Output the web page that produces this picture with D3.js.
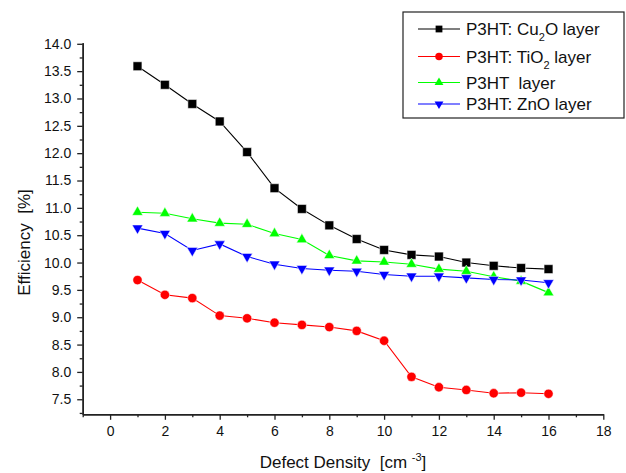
<!doctype html>
<html lang="en">
  <head>
    <title>Efficiency vs defect density</title>
    <style>
      * {
        box-sizing: border-box;
      }

      body {
        margin: 0;
        background: white;
      }

      text {
        font-family: "Liberation Sans", Arial, sans-serif;
        white-space: pre;
      }
    </style>
  </head>
  <body>
    <div id="chart"></div>

    <script src="https://cdn.jsdelivr.net/npm/d3@7"></script>
    <script>
      const density = [1, 2, 3, 4, 5, 6, 7, 8, 9, 10, 11, 12, 13, 14, 15, 16]
      const cu2o = [13.59, 13.25, 12.90, 12.58, 12.02, 11.36, 10.98, 10.68, 10.43, 10.23, 10.14, 10.11, 10.00, 9.94, 9.90, 9.88]
      const tio2 = [9.68, 9.41, 9.35, 9.03, 8.98, 8.90, 8.86, 8.82, 8.75, 8.57, 7.91, 7.72, 7.67, 7.61, 7.62, 7.60]
      const p3ht = [10.92, 10.90, 10.80, 10.72, 10.70, 10.53, 10.42, 10.13, 10.03, 10.01, 9.97, 9.88, 9.84, 9.74, 9.66, 9.45]
      const zno = [10.63, 10.53, 10.22, 10.34, 10.11, 9.97, 9.89, 9.86, 9.84, 9.78, 9.75, 9.75, 9.72, 9.69, 9.68, 9.63]

      const xMajor = [0, 2, 4, 6, 8, 10, 12, 14, 16, 18]
      const xMinor = [-1, 1, 3, 5, 7, 9, 11, 13, 15, 17]
      const yMajor = [7.5, 8.0, 8.5, 9.0, 9.5, 10.0, 10.5, 11.0, 11.5, 12.0, 12.5, 13.0, 13.5, 14.0]
      const yMinor = [7.25, 7.75, 8.25, 8.75, 9.25, 9.75, 10.25, 10.75, 11.25, 11.75, 12.25, 12.75, 13.25, 13.75]

      const series = [
        { name: ['P3HT: Cu', '2', 'O layer'], values: cu2o, color: '#000000', symbol: d3.symbolSquare, size: 78, legendSize: 46, rotate: 0 },
        { name: ['P3HT: TiO', '2', ' layer'], values: tio2, color: '#ff0000', symbol: d3.symbolCircle, size: 68, legendSize: 44, rotate: 0 },
        { name: ['P3HT  layer'], values: p3ht, color: '#00ff00', symbol: d3.symbolTriangle, size: 50, legendSize: 34, rotate: 0 },
        { name: ['P3HT: ZnO layer'], values: zno, color: '#0000ff', symbol: d3.symbolTriangle, size: 50, legendSize: 34, rotate: 180 },
      ]

      const width = 626
      const height = 473
      const plotLeft = 82.7
      const plotRight = 603.3
      const plotTop = 42.7
      const plotBottom = 414.3

      const svg = d3.select('#chart')
        .append('svg')
          .attr('width', width)
          .attr('height', height)

      const x = d3.scaleLinear()
        .domain([-1, 18])
        .range([plotLeft, plotRight])

      const y = d3.scaleLinear()
        .domain([7.225, 14.02])
        .range([plotBottom, plotTop])

      function styleAxis(g) {
        g.selectAll('.domain').attr('stroke', '#222').attr('stroke-width', 1.5)
        g.selectAll('.tick line').attr('stroke', '#222').attr('stroke-width', 1.3)
        g.selectAll('text')
          .attr('fill', '#111')
          .style('font-size', '14px')
          .style('font-family', '"Liberation Sans", Arial, sans-serif')
      }

      svg.append('g')
        .attr('transform', `translate(0, ${plotBottom})`)
        .call(d3.axisBottom(x).tickValues(xMinor).tickSize(3).tickFormat('').tickSizeOuter(0))
        .call(styleAxis)

      svg.append('g')
        .attr('transform', `translate(0, ${plotBottom})`)
        .call(d3.axisBottom(x).tickValues(xMajor).tickSize(5.5).tickPadding(6).tickFormat(d3.format('d')).tickSizeOuter(0))
        .call(styleAxis)

      svg.append('g')
        .attr('transform', `translate(${plotLeft}, 0)`)
        .call(d3.axisLeft(y).tickValues(yMinor).tickSize(3).tickFormat('').tickSizeOuter(0))
        .call(styleAxis)

      svg.append('g')
        .attr('transform', `translate(${plotLeft}, 0)`)
        .call(d3.axisLeft(y).tickValues(yMajor).tickSize(5.5).tickPadding(6).tickFormat(d3.format('.1f')).tickSizeOuter(0))
        .call(styleAxis)

      // axis titles
      const xTitle = svg.append('text')
        .attr('x', (plotLeft + plotRight) / 2)
        .attr('y', 467.5)
        .attr('text-anchor', 'middle')
        .style('font-size', '17px')
        .attr('fill', '#111')
      xTitle.append('tspan').text('Defect Density  [cm ')
      xTitle.append('tspan').attr('dy', -7).style('font-size', '11px').text('-3')
      xTitle.append('tspan').attr('dy', 7).text(']')

      svg.append('text')
        .attr('transform', `translate(29.5, ${(plotTop + plotBottom) / 2 + 14}) rotate(-90)`)
        .attr('text-anchor', 'middle')
        .style('font-size', '17px')
        .attr('fill', '#111')
        .text('Efficiency  [%]')

      const line = d3.line()
        .x((d, i) => x(density[i]))
        .y(d => y(d))

      series.forEach(s => {
        svg.append('path')
          .datum(s.values)
          .attr('fill', 'none')
          .attr('stroke', s.color)
          .attr('stroke-width', 1.1)
          .attr('d', line)

        svg.append('g')
          .selectAll('path')
          .data(s.values)
          .join('path')
            .attr('transform', (d, i) => `translate(${x(density[i])}, ${y(d)}) rotate(${s.rotate})`)
            .attr('d', d3.symbol(s.symbol, s.size))
            .attr('fill', s.color)
            .attr('stroke', 'white')
            .attr('stroke-width', 0.5)
      })

      // legend
      const legend = svg.append('g')
      legend.append('rect')
        .attr('x', 403)
        .attr('y', 12)
        .attr('width', 221)
        .attr('height', 106)
        .attr('fill', 'white')
        .attr('stroke', '#222')
        .attr('stroke-width', 1.2)

      const rowY = [29, 56.5, 82.5, 104]
      series.forEach((s, i) => {
        const row = legend.append('g').attr('transform', `translate(0, ${rowY[i]})`)
        row.append('line')
          .attr('x1', 418).attr('x2', 460)
          .attr('stroke', s.color)
          .attr('stroke-width', 1.1)
        row.append('path')
          .attr('transform', `translate(439, 0) rotate(${s.rotate})`)
          .attr('d', d3.symbol(s.symbol, s.legendSize))
          .attr('fill', s.color)
        const t = row.append('text')
          .attr('x', 466)
          .attr('y', 6)
          .style('font-size', '17px')
          .attr('fill', '#111')
        t.append('tspan').text(s.name[0])
        if (s.name.length > 1) {
          t.append('tspan').attr('dy', 6).style('font-size', '11px').text(s.name[1])
          t.append('tspan').attr('dy', -6).text(s.name[2])
        }
      })
    </script>
  </body>
</html>
